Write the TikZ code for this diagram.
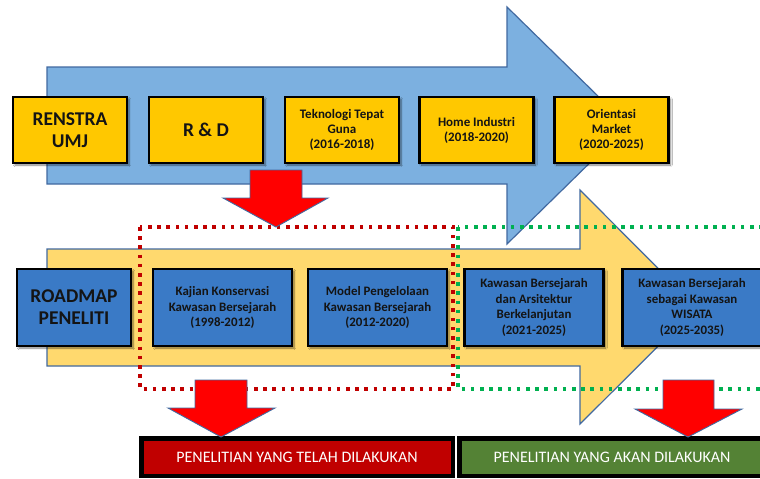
\documentclass[tikz,border=0pt]{standalone}
\usepackage{fontspec}
\setmainfont{Carlito}
\usetikzlibrary{shadows.blur}
\definecolor{arrowblue}{RGB}{124,176,224}
\definecolor{edgeblue}{RGB}{65,105,160}
\definecolor{arrowyellow}{RGB}{255,217,110}
\definecolor{boxgold}{RGB}{255,200,0}
\definecolor{boxblue}{RGB}{58,122,198}
\definecolor{barred}{RGB}{192,0,0}
\definecolor{bargreen}{RGB}{84,130,53}
\definecolor{dotred}{RGB}{192,0,0}
\definecolor{dotgreen}{RGB}{0,176,80}
\definecolor{txt}{RGB}{20,20,20}
\tikzset{
  bigarrow/.style={draw=edgeblue, line width=1.2pt, line join=miter},
  basebox/.style={draw=black, line width=2.8pt, text=txt, font=\bfseries, align=center,
     blur shadow={shadow xshift=2pt, shadow yshift=-2pt, shadow blur steps=6, shadow opacity=50}},
  goldbox/.style={basebox, fill=boxgold, minimum width=114pt, minimum height=66pt},
  bluebox/.style={basebox, fill=boxblue, minimum width=139pt, minimum height=77pt},
  smalltext/.style={font=\bfseries\fontsize{13}{15}\selectfont},
  bigtext/.style={font=\bfseries\fontsize{19.5}{22}\selectfont},
  bluetext/.style={font=\bfseries\fontsize{12.9}{15.5}\selectfont},
  dotbox/.style={line width=3.6pt, dash pattern=on 3.6pt off 5.6pt},
  redarrow/.style={fill=red, draw=edgeblue, line width=0.9pt, line join=miter},
  bartext/.style={text=white, font=\fontsize{16}{19}\selectfont},
}
\begin{document}
\begin{tikzpicture}[x=1pt,y=-1pt]
\useasboundingbox (0,0) rectangle (760,479);
\fill[white] (0,0) rectangle (760,479);
% big arrows
\draw[bigarrow, fill=arrowblue] (47,67) -- (507,67) -- (507,7) -- (628,125.5) -- (507,244) -- (507,184) -- (47,184) -- cycle;
\draw[bigarrow, fill=arrowyellow] (47,249) -- (580,249) -- (580,190) -- (697,307.5) -- (580,424) -- (580,366) -- (47,366) -- cycle;
% top row
\node[goldbox, bigtext] (renstra) at (70,130) {RENSTRA\\UMJ};
\node[goldbox, bigtext] (rd) at (206,130) {R \& D};
\node[goldbox, smalltext] (ttg) at (342,130) {Teknologi Tepat\\Guna\\(2016-2018)};
\node[goldbox, smalltext] (home) at (476.5,130) {Home Industri\\(2018-2020)};
\node[goldbox, smalltext] (market) at (611.5,130) {Orientasi\\Market\\(2020-2025)};
% bottom row
\node[bluebox, bigtext, minimum width=114pt] (roadmap) at (74,307.5) {ROADMAP\\PENELITI};
\node[bluebox, bluetext] (kajian) at (222.5,307.5) {Kajian Konservasi\\Kawasan Bersejarah\\(1998-2012)};
\node[bluebox, bluetext] (model) at (377.5,307.5) {Model Pengelolaan\\Kawasan Bersejarah\\(2012-2020)};
\node[bluebox, bluetext] (arsitektur) at (534,307.5) {Kawasan Bersejarah\\dan Arsitektur\\Berkelanjutan\\(2021-2025)};
\node[bluebox, bluetext] (wisata) at (692,307.5) {Kawasan Bersejarah\\sebagai Kawasan\\WISATA\\(2025-2035)};
% dotted groups
\draw[dotbox, draw=dotred] (140,227) rectangle (453,389);
\draw[dotbox, draw=dotgreen] (458,227) rectangle (775,389);
% bottom bars
\draw[line width=4.5pt, fill=barred] (141.25,438.25) rectangle (452.75,475.75);
\draw[line width=4.5pt, fill=bargreen] (459.25,438.25) rectangle (772,475.75);
\node[bartext] (done) at (297,457) {PENELITIAN YANG TELAH DILAKUKAN};
\node[bartext] (todo) at (612,457) {PENELITIAN YANG AKAN DILAKUKAN};
% red block arrows
\draw[redarrow] (250,170) -- (302,170) -- (302,198) -- (328,198) -- (276,227) -- (223,198) -- (250,198) -- cycle;
\draw[redarrow] (195,380) -- (247,380) -- (247,408) -- (275,408) -- (221,437) -- (168,408) -- (195,408) -- cycle;
\draw[redarrow] (663,380) -- (714,380) -- (714,409) -- (742,409) -- (688,437) -- (635,409) -- (663,409) -- cycle;
\end{tikzpicture}
\end{document}
